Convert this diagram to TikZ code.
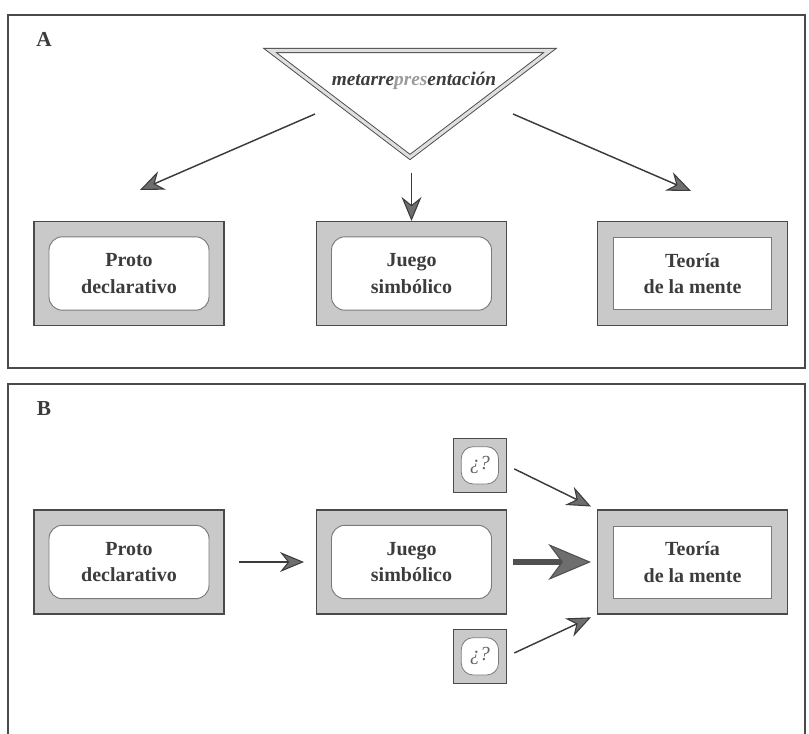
\documentclass[tikz,border=0pt]{standalone}
\usepackage{fontspec}
\setmainfont{Liberation Serif}
\usetikzlibrary{arrows.meta,positioning}
\definecolor{frame}{HTML}{4A4A4A}
\definecolor{edge}{HTML}{7A7A7A}
\definecolor{boxgray}{HTML}{C9C9C9}
\definecolor{tipgray}{HTML}{6E6E6E}
\definecolor{ink}{HTML}{3C3C3C}
\definecolor{pale}{HTML}{9A9A9A}

\begin{document}
\begin{tikzpicture}[x=0.75pt, y=-0.75pt,
    panel/.style={draw=frame, line width=.9pt},
    outbox/.style={draw=frame, fill=boxgray, line width=.8pt,
      minimum width=142.5pt, minimum height=78pt},
    inbox/.style={draw=edge, fill=white, line width=.7pt, rounded corners=10pt,
      minimum width=120pt, minimum height=55pt, align=center, text=ink,
      font=\bfseries\fontsize{15}{20}\selectfont},
    sqbox/.style={inbox, rounded corners=0pt, minimum width=118.5pt, minimum height=54pt},
    qout/.style={draw=frame, fill=boxgray, line width=.7pt, minimum size=40pt, inner sep=0pt},
    qin/.style={draw=edge, fill=white, line width=.6pt, rounded corners=9pt,
      minimum size=28pt, inner sep=0pt, text=ink!80, font=\itshape\fontsize{15}{15}\selectfont},
    arr/.style={draw=ink, line width=1.1pt,
      -{Stealth[length=18pt, width=15pt, inset=6pt, fill=tipgray, line width=.8pt]}},
    bigarr/.style={draw=ink!90, line width=5pt,
      -{Stealth[length=32pt, width=27pt, inset=10pt, fill=tipgray, line width=.8pt]}},
    tag/.style={text=ink, font=\bfseries\fontsize{16}{16}\selectfont}]
  \useasboundingbox (0,0) rectangle (809,734);

  % panel A
  \draw[panel] (8,15) rectangle (805,368);
  \node[tag] (labA) at (44,39) {A};
  \draw[draw=frame, line width=.7pt, double=boxgray!60, double distance=2.4pt, line join=miter]
    (270,50.5) -- (550,50.5) -- (410,157) -- cycle;
  \node[text=ink, font=\bfseries\itshape\fontsize{14.5}{14}\selectfont] (meta) at (414,81)
    {metarre{\color{pale}pres}entación};

  \node[outbox] (pA) at (129,273.5) {};
  \node[inbox] (pAin) at (pA.center) {Proto\\declarativo};
  \node[outbox] (jA) at (411.5,273.5) {};
  \node[inbox] (jAin) at (jA.center) {Juego\\simbólico};
  \node[outbox] (tA) at (692.5,273.5) {};
  \node[sqbox] (tAin) at (tA.center) {Teoría\\de la mente};

  \coordinate (l0) at (315,114);
  \coordinate (l1) at (140,190);
  \coordinate (m0) at (411.5,173);
  \coordinate (r0) at (513,114);
  \coordinate (r1) at (691,191);
  \draw[arr] (l0) -- (l1);
  \draw[arr] (m0) -- (jA);
  \draw[arr] (r0) -- (r1);

  % panel B
  \draw[panel] (8,740) -- (8,384) -- (805,384) -- (805,740);
  \node[tag] (labB) at (44,409) {B};

  \node[outbox] (pB) at (129,562) {};
  \node[inbox] (pBin) at (pB.center) {Proto\\declarativo};
  \node[outbox] (jB) at (411.5,562) {};
  \node[inbox] (jBin) at (jB.center) {Juego\\simbólico};
  \node[outbox] (tB) at (692.5,562) {};
  \node[sqbox] (tBin) at (tB.center) {Teoría\\de la mente};

  \node[qout, above left=12.75pt and 0pt of jB.north east] (q1) {};
  \node[qin] (q1in) at (q1.center) {¿?};
  \node[qout, below left=11pt and 0pt of jB.south east] (q2) {};
  \node[qin] (q2in) at (q2.center) {¿?};

  \draw[arr, shorten <=11pt, shorten >=9pt] (pB) -- (jB);
  \draw[bigarr, shorten <=4.5pt, shorten >=4.5pt] (jB) -- (tB);
  \draw[arr, shorten <=6pt, shorten >=5pt] (q1.east) -- (tB.north west);
  \draw[arr, shorten <=6pt, shorten >=5pt] (q2.east) -- (tB.south west);
\end{tikzpicture}
\end{document}
